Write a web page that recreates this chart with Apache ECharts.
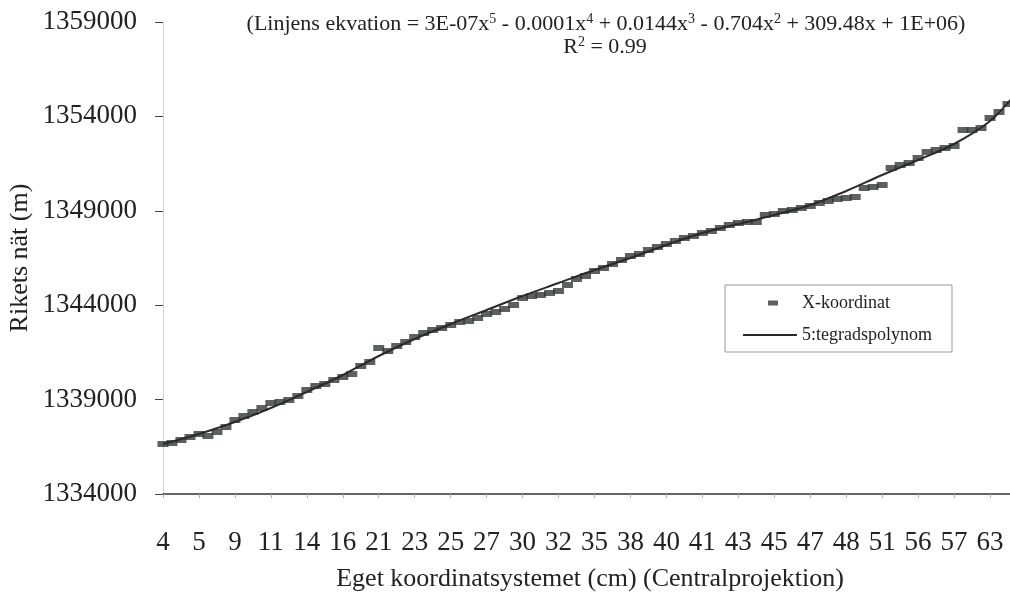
<!DOCTYPE html>
<html>
<head>
<meta charset="utf-8">
<script src="https://cdn.jsdelivr.net/npm/echarts@6/dist/echarts.min.js"></script>
<style>
html,body{margin:0;padding:0;background:#fff;}
#chart{width:1010px;height:599px;}
</style>
</head>
<body>
<div id="chart"></div>
<script>
// Tick labels shown on the x axis (every 4th measurement)
const tickLabels = ['4','5','9','11','14','16','21','23','25','27','30','32','35','38','40','41','43','45','47','48','51','56','57','63'];

// Measured points "X-koordinat" (Rikets nät, m), one per measurement
const xKoordinat = [
  1336648, 1336701, 1336860, 1337019, 1337178, 1337072, 1337284, 1337549,
  1337920, 1338131, 1338343, 1338555, 1338820, 1338873, 1338979, 1339191,
  1339509, 1339720, 1339826, 1340038, 1340197, 1340356, 1340780, 1340992,
  1341733, 1341574, 1341839, 1342051, 1342316, 1342528, 1342686, 1342792,
  1342951, 1343110, 1343163, 1343322, 1343534, 1343640, 1343799, 1344011,
  1344381, 1344487, 1344540, 1344646, 1344752, 1345070, 1345388, 1345547,
  1345811, 1345970, 1346182, 1346394, 1346606, 1346712, 1346924, 1347083,
  1347242, 1347400, 1347559, 1347665, 1347824, 1347930, 1348089, 1348248,
  1348354, 1348407, 1348407, 1348778, 1348831, 1348989, 1349042, 1349148,
  1349254, 1349413, 1349519, 1349625, 1349678, 1349731, 1350208, 1350261,
  1350367, 1351267, 1351426, 1351532, 1351797, 1352114, 1352220, 1352326,
  1352432, 1353280, 1353280, 1353386, 1353915, 1354233, 1354657, 1355081
];

// Trend line (5th degree polynomial) read at selected measurement indices
const trendIdx = [0, 4, 8, 12, 16, 20, 24, 28, 32, 36, 40, 44, 48, 52, 56, 60, 64, 68, 72, 76, 80, 84, 88, 92, 95];
const trendVal = [
  1336648, 1337178, 1337814, 1338555, 1339403, 1340303, 1341309, 1342210,
  1343004, 1343746, 1344487, 1345176, 1345864, 1346500, 1347189, 1347824,
  1348301, 1348778, 1349307, 1350049, 1350896, 1351691, 1352538, 1353756, 1355292
];

const categories = xKoordinat.map((v, i) => String(i));
const trendFull = xKoordinat.map(() => null);
trendIdx.forEach((idx, k) => { trendFull[idx] = trendVal[k]; });

const FONT = 'Liberation Serif';
const chart = echarts.init(document.getElementById('chart'), null, {renderer: 'canvas'});

const supRich = {s: {fontFamily: FONT, fontSize: 14, color: '#222', verticalAlign: 'top', lineHeight: 14}};

chart.setOption({
  backgroundColor: '#ffffff',
  animation: false,
  textStyle: {fontFamily: FONT, color: '#222'},
  title: [
    {
      text: '(Linjens ekvation = 3E-07x{s|5} - 0.0001x{s|4} + 0.0144x{s|3} - 0.704x{s|2} + 309.48x + 1E+06)',
      left: 601, top: 7, textAlign: 'center',
      textStyle: {fontFamily: FONT, fontSize: 22, fontWeight: 'normal', color: '#222', lineHeight: 24, rich: supRich}
    },
    {
      text: 'R{s|2} = 0.99',
      left: 600, top: 30, textAlign: 'center',
      textStyle: {fontFamily: FONT, fontSize: 22, fontWeight: 'normal', color: '#222', lineHeight: 24, rich: supRich}
    }
  ],
  legend: {
    orient: 'vertical',
    left: 725, top: 285,
    padding: [8, 20, 7, 18],
    itemGap: 12,
    itemWidth: 54, itemHeight: 5,
    borderColor: '#999', borderWidth: 1,
    textStyle: {fontFamily: FONT, fontSize: 18, color: '#222', lineHeight: 20},
    data: [
      {name: 'X-koordinat', icon: 'path://M0,0L0.01,0L0.01,0.01Z M25,0H35V5H25Z M54,5L53.99,5L53.99,4.99Z', itemStyle: {color: '#333836'}},
      {name: '5:tegradspolynom', icon: 'path://M0,0H54V2H0Z', itemStyle: {color: '#2a2a2a'}}
    ]
  },
  grid: {left: 163, right: -7, top: 22, bottom: 105, containLabel: false, outerBoundsMode: 'none'},
  xAxis: {
    type: 'category',
    data: categories,
    boundaryGap: false,
    name: 'Eget koordinatsystemet (cm) (Centralprojektion)',
    nameLocation: 'middle',
    nameGap: 72,
    nameMoveOverlap: false,
    nameTextStyle: {fontFamily: FONT, fontSize: 26, color: '#222'},
    axisLine: {lineStyle: {color: '#333', width: 1.5}},
    axisTick: {show: true, interval: 3, length: 4, lineStyle: {color: '#aaa'}},
    axisLabel: {
      interval: 3, margin: 35,
      fontFamily: FONT, fontSize: 27, color: '#222',
      formatter: (v, i) => tickLabels[i / 4] || ''
    },
    splitLine: {show: false}
  },
  yAxis: {
    type: 'value',
    min: 1334000, max: 1359000, interval: 5000,
    name: 'Rikets nät (m)',
    nameLocation: 'middle',
    nameRotate: 90,
    nameGap: 130,
    nameMoveOverlap: false,
    nameTextStyle: {fontFamily: FONT, fontSize: 26, color: '#222'},
    axisLine: {show: true, lineStyle: {color: '#c8c8c8', type: 'dotted', width: 1}},
    axisTick: {show: true, length: 8, lineStyle: {color: '#444', width: 1}},
    axisLabel: {margin: 26, fontFamily: FONT, fontSize: 27, color: '#222', formatter: (v) => String(v)},
    splitLine: {show: false}
  },
  series: [
    {
      name: 'X-koordinat',
      type: 'scatter',
      data: xKoordinat,
      symbol: 'rect',
      symbolSize: [11, 6],
      itemStyle: {color: '#333836'},
      z: 2
    },
    {
      name: '5:tegradspolynom',
      type: 'line',
      data: trendFull,
      connectNulls: true,
      smooth: 0.35,
      showSymbol: false,
      symbol: 'none',
      lineStyle: {color: '#2a2a2a', width: 2},
      itemStyle: {color: '#2a2a2a'},
      z: 3
    }
  ]
});
</script>
</body>
</html>
